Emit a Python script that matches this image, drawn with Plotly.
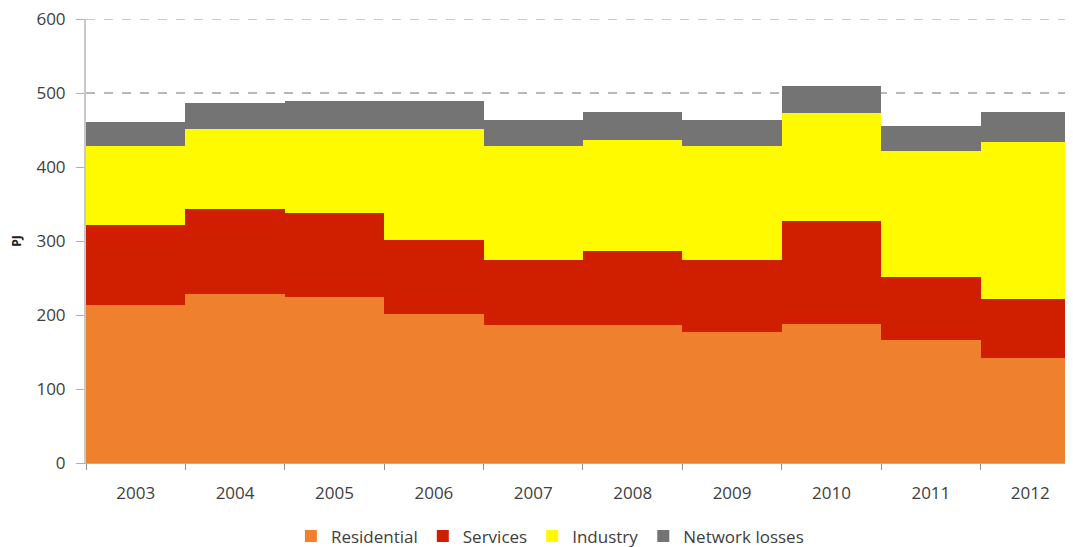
import plotly.graph_objects as go

years = ['2003', '2004', '2005', '2006', '2007', '2008', '2009', '2010', '2011', '2012']

# PJ per sector
residential = [213, 229, 224, 202, 186, 186, 177, 188, 166, 142]
services = [109, 114, 114, 100, 89, 100, 98, 139, 85, 79]
industry = [107, 108, 113, 149, 154, 151, 154, 146, 170, 213]
network_losses = [32, 35, 38, 38, 35, 38, 35, 37, 35, 41]

series = [
    ('Residential', residential, '#ef812e'),
    ('Services', services, '#cf1f00'),
    ('Industry', industry, '#fffa00'),
    ('Network losses', network_losses, '#747474'),
]

fig = go.Figure()
for name, vals, color in series:
    fig.add_trace(go.Bar(
        x=years, y=vals, name=name,
        marker=dict(color=color, line=dict(width=0)),
    ))

# top gridline sits on the plot edge, plotly skips it -> draw it as a shape
fig.add_hline(y=600, line=dict(color='#b8b8b8', dash='dash', width=1.5), layer='below')

# page body has an 8px margin, so the figure is drawn 8px smaller and shifted
fig.update_layout(
    barmode='stack',
    bargap=0,
    width=1065, height=539,
    margin=dict(l=78, r=0, t=11, b=84, autoexpand=False),
    paper_bgcolor='white',
    plot_bgcolor='white',
    font=dict(family='Open Sans', size=16, color='#404040'),
    legend=dict(
        orientation='h', x=0.47, xanchor='center', y=-0.125, yanchor='top',
        font=dict(size=17, color='#404040'),
        itemwidth=30, traceorder='normal',
    ),
)
fig.update_xaxes(
    type='category',
    range=[-0.5, 9.43],
    automargin=False,
    showline=True, linecolor='#b0b0b0', linewidth=1,
    ticks='outside', tickson='boundaries', ticklen=6, tickcolor='#909090',
    ticklabelstandoff=15,
    tickfont=dict(size=17),
    showgrid=False,
)
fig.update_yaxes(
    range=[0, 600], dtick=100,
    automargin=False,
    ticklabeloverflow='allow',
    showline=True, linecolor='#c8c8c8', linewidth=2,
    ticks='outside', ticklen=8, tickcolor='#b0b0b0',
    ticklabelstandoff=7,
    tickfont=dict(size=17),
    showgrid=True, gridcolor='#b8b8b8', griddash='dash', gridwidth=1.5,
    zeroline=False,
    title=dict(text='<b>PJ</b>', font=dict(size=12, color='#202020'), standoff=18),
)

fig.write_html('out.html')
